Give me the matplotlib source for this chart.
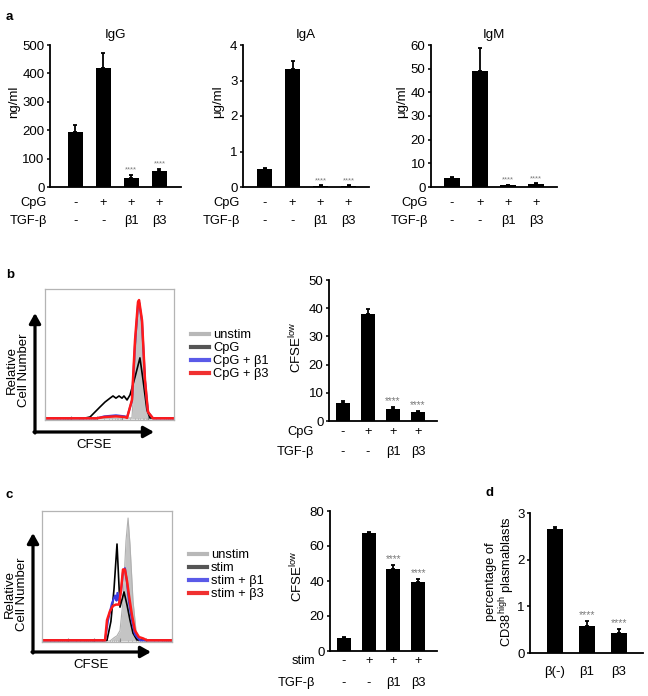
import matplotlib
matplotlib.use("Agg")
import matplotlib.pyplot as plt
from matplotlib.lines import Line2D
from matplotlib.patches import FancyArrowPatch

plt.rcParams["font.family"] = ["Liberation Sans", "DejaVu Sans"]
plt.rcParams["font.size"] = 9.3
plt.rcParams["mathtext.fontset"] = "custom"
plt.rcParams["mathtext.rm"] = "Liberation Sans"

W, H = 648, 696

# ---- panel a: immunoglobulin secretion ----
ig_titles = ["IgG", "IgA", "IgM"]
ig_units = ["ng/ml", "μg/ml", "μg/ml"]
igg_mean = [195, 420, 31, 57]
igg_err = [23, 51, 12, 8]
iga_mean = [0.50, 3.31, 0.04, 0.04]
iga_err = [0.03, 0.25, 0.01, 0.01]
igm_mean = [3.9, 49, 0.85, 1.4]
igm_err = [0.2, 9.8, 0.1, 0.15]
ig_yticks = [[0, 100, 200, 300, 400, 500], [0, 1, 2, 3, 4], [0, 10, 20, 30, 40, 50, 60]]

cpg_row = ["-", "+", "+", "+"]
stim_row = ["-", "+", "+", "+"]
tgf_row = ["-", "-", "β1", "β3"]
sig_idx = [2, 3]

# ---- panel b: CFSE dilution, CpG ----
b_labels = ["unstim", "CpG", "CpG + β1", "CpG + β3"]
b_unstim_x = [0, 67.4, 69.8, 72.1, 73.6, 76.0, 79.0, 81.4, 100]
b_unstim_y = [0, 0.8, 37.7, 83.8, 89.0, 53.0, 14.6, 0, 0]
b_cpg_x = [0, 30, 34.9, 42.6, 46.5, 50.4, 52.7, 55.0, 57.4, 59.7, 61.2, 63.6,
           65.9, 69.8, 73.6, 76.0, 79.0, 81.4, 100]
b_cpg_y = [0.5, 0.5, 1.5, 9.2, 13.0, 16.0, 17.7, 16.0, 17.7, 16.0, 17.7, 14.6,
           18.5, 32.3, 47.0, 30.0, 7.0, 0.8, 0.5]
b_b1_x = [0, 40, 46, 55, 62, 63.6, 67.4, 69.8, 72.1, 72.9, 75.2, 77.5, 79.8, 83.7, 100]
b_b1_y = [0.5, 0.5, 2.0, 2.8, 2.0, 1.2, 14.0, 58.0, 88.0, 90.0, 75.0, 30.0, 5.4, 0.5, 0.5]
b_b3_x = [0, 40, 46, 55, 62, 63.6, 67.4, 69.8, 72.1, 72.9, 75.2, 77.5, 79.8, 83.7, 100]
b_b3_y = [0.5, 0.5, 1.5, 2.0, 1.5, 0.8, 14.6, 60.8, 90.0, 91.5, 76.0, 30.0, 5.4, 0.5, 0.5]
b_mean = [6.5, 37.9, 4.4, 3.3]
b_err = [0.7, 1.7, 0.7, 0.2]

# ---- panel c: CFSE dilution, stim ----
c_labels = ["unstim", "stim", "stim + β1", "stim + β3"]
c_unstim_x = [0, 52.3, 55.4, 57.7, 60.0, 62.3, 64.6, 66.2, 67.7, 70.0, 72.3, 74.6, 100]
c_unstim_y = [0, 0, 2.5, 4.0, 8.0, 31.0, 77.0, 94.6, 74.0, 31.0, 8.0, 0, 0]
c_stim_x = [0, 50.0, 53.0, 55.4, 57.7, 60.0, 63.1, 65.4, 67.7, 70.0, 73.0, 100]
c_stim_y = [0.5, 0.5, 15.0, 40.0, 74.6, 26.0, 37.7, 27.7, 16.0, 6.0, 0.8, 0.5]
c_b1_x = [0, 48.5, 50.8, 53.8, 56.2, 57.3, 58.0, 59.2, 60.8, 62.3, 63.8, 65.4,
          66.9, 69.2, 71.5, 75.4, 100]
c_b1_y = [0.5, 0.5, 16.0, 29.0, 35.0, 31.0, 37.0, 31.0, 38.0, 53.0, 56.0, 45.0,
          30.0, 16.0, 5.0, 0.5, 0.5]
c_b3_x = [0, 48.5, 50.0, 52.3, 54.6, 56.9, 59.2, 60.8, 62.3, 63.8, 65.4, 66.9,
          69.2, 71.5, 74.6, 77.7, 80.8, 100]
c_b3_y = [0.5, 0.5, 16.0, 23.0, 27.0, 28.0, 28.0, 39.0, 55.0, 55.0, 46.0, 35.0,
          20.0, 8.0, 3.0, 2.0, 0.5, 0.5]
c_mean = [7.6, 67.4, 47.0, 39.6]
c_err = [0.3, 0.5, 2.0, 1.5]

# ---- panel d: plasmablasts ----
d_cats = ["β(-)", "β1", "β3"]
d_mean = [2.66, 0.585, 0.435]
d_err = [0.03, 0.10, 0.075]

hist_colors = ["#c4c4c4", "#000000", "#3a3ae0", "#ff1a1a"]
legend_colors = ["#b8b8b8", "#555555", "#5a5ae8", "#f03030"]


def px_axes(fig, l, r, t, b):
    return fig.add_axes([l / W, 1 - b / H, (r - l) / W, (b - t) / H])


def bar_panel(ax, means, errs, xlim, yticks, width, star_fs, stars=True):
    x = list(range(len(means)))
    ax.bar(x, means, width=width, color="black", zorder=2)
    ax.errorbar(x, means, yerr=[[0] * len(x), errs], fmt="none", ecolor="black",
                elinewidth=1.3, capsize=1.5, capthick=1.3, zorder=3)
    if stars:
        for i in sig_idx:
            ax.annotate("****", xy=(i, means[i] + errs[i]), xytext=(0, 1),
                        textcoords="offset pixels", ha="center", va="bottom",
                        fontsize=star_fs, color="#7a7a7a")
    ax.set_xlim(*xlim)
    ax.set_ylim(0, yticks[-1])
    ax.set_yticks(yticks)
    ax.set_xticks([])
    for s in ["top", "right"]:
        ax.spines[s].set_visible(False)
    for s in ["left", "bottom"]:
        ax.spines[s].set_linewidth(1.3)
    ax.tick_params(axis="y", length=2.5, width=1.1, pad=1.5, labelsize=9.5)


def row_labels(ax, name_rows, value_rows, offsets, name_dx):
    for (name, vals, off) in zip(name_rows, value_rows, offsets):
        ax.annotate(name, xy=(0, 0), xycoords="axes fraction", xytext=(name_dx, -off),
                    textcoords="offset pixels", ha="right", va="center")
        for i, v in enumerate(vals):
            ax.annotate(v, xy=(i, 0), xycoords=ax.get_xaxis_transform(),
                        xytext=(0, -off), textcoords="offset pixels",
                        ha="center", va="center")


def hist_panel(ax, curves):
    (ux, uy), rest = curves[0], curves[1:]
    ax.fill_between(ux, uy, color=hist_colors[0], lw=0, zorder=1)
    ax.plot(ux, uy, color="#b0b0b0", lw=0.8, zorder=1)
    widths = [1.2, 1.5, 1.8]
    for (cx, cy), col, lw in zip(rest, hist_colors[1:], widths):
        ax.plot(cx, cy, color=col, lw=lw, zorder=2)
    ax.set_xlim(0, 100)
    ax.set_ylim(-0.8, 100)
    ax.set_yticks([])
    ax.set_xticks(range(0, 101, 20))
    ax.set_xticks([m + d for m in range(0, 100, 20)
                   for d in (6, 9.5, 12, 14, 15.6, 16.9, 18.1, 19.1)], minor=True)
    ax.set_xticklabels([])
    ax.tick_params(axis="x", which="major", direction="in", length=3, width=0.8, color="#888888")
    ax.tick_params(axis="x", which="minor", direction="in", length=1.5, width=0.5, color="#aaaaaa")
    for s in ax.spines.values():
        s.set_color("#b4b4b4")
        s.set_linewidth(0.9)


def arrows(fig, x0, y0, x1, y1):
    kw = dict(transform=fig.transFigure, arrowstyle="-|>,head_length=0.5,head_width=0.28",
              mutation_scale=12, lw=2.3, color="black", shrinkA=0, shrinkB=0)
    fig.add_artist(FancyArrowPatch((x0 / W, 1 - (y0 + 1) / H), (x0 / W, 1 - y1 / H), **kw))
    fig.add_artist(FancyArrowPatch(((x0 - 1) / W, 1 - y0 / H), (x1 / W, 1 - y0 / H), **kw))


def legend_block(ax, labels, x, y):
    handles = [Line2D([], [], color=c, lw=3) for c in legend_colors]
    ax.legend(handles, labels, loc="upper left", bbox_to_anchor=(x / W, 1 - y / H),
              bbox_transform=fig.transFigure, frameon=False, handlelength=1.4,
              handletextpad=0.3, labelspacing=0.08, borderpad=0, borderaxespad=0,
              fontsize=9.3)


fig = plt.figure(figsize=(W / 100, H / 100), dpi=100)

# panel a
a_boxes = [(50, 181, 45, 187), (243, 369, 45, 187), (431, 557, 45, 187)]
a_xlims = [(-0.9, 3.77), (-0.77, 3.73), (-0.75, 3.75)]
a_means = [igg_mean, iga_mean, igm_mean]
a_errs = [igg_err, iga_err, igm_err]
a_label_x = [-0.27, -0.198, -0.23]
for box, xl, m, e, yt, t, u, lx in zip(a_boxes, a_xlims, a_means, a_errs, ig_yticks,
                                       ig_titles, ig_units, a_label_x):
    ax = px_axes(fig, *box)
    bar_panel(ax, m, e, xl, yt, 0.54, 5.5)
    ax.set_title(t, fontsize=9.6, pad=5)
    ax.set_ylabel(u, fontsize=9.5, va="center")
    ax.yaxis.set_label_coords(lx, 0.6)
    row_labels(ax, ["CpG", "TGF-β"], [cpg_row, tgf_row], [16, 34], -3)

# panel b
axh = px_axes(fig, 45, 174, 289, 420)
hist_panel(axh, [(b_unstim_x, b_unstim_y), (b_cpg_x, b_cpg_y),
                 (b_b1_x, b_b1_y), (b_b3_x, b_b3_y)])
legend_block(axh, b_labels, 191, 329)
arrows(fig, 35, 432, 154, 313)
fig.text(18 / W, 1 - 370 / H, "Relative\nCell Number", rotation=90, ha="center",
         va="center", fontsize=9.5, linespacing=1.0)
fig.text(94 / W, 1 - 445 / H, "CFSE", ha="center", va="center", fontsize=9.5)

axb = px_axes(fig, 329, 437, 280, 421)
bar_panel(axb, b_mean, b_err, (-0.56, 3.76), [0, 10, 20, 30, 40, 50], 0.56, 7.2)
axb.set_ylabel("CFSE$^{\\mathrm{low}}$", fontsize=9.5, va="center")
axb.yaxis.set_label_coords(-0.305, 0.525)
row_labels(axb, ["CpG", "TGF-β"], [cpg_row, tgf_row], [11, 31], -15)

# panel c
axh2 = px_axes(fig, 42, 172, 511, 642)
hist_panel(axh2, [(c_unstim_x, c_unstim_y), (c_stim_x, c_stim_y),
                  (c_b1_x, c_b1_y), (c_b3_x, c_b3_y)])
legend_block(axh2, c_labels, 189, 549)
arrows(fig, 33, 652, 151, 533)
fig.text(16 / W, 1 - 594 / H, "Relative\nCell Number", rotation=90, ha="center",
         va="center", fontsize=9.5, linespacing=1.0)
fig.text(91 / W, 1 - 665 / H, "CFSE", ha="center", va="center", fontsize=9.5)

axc = px_axes(fig, 330, 437, 511, 651)
bar_panel(axc, c_mean, c_err, (-0.56, 3.76), [0, 20, 40, 60, 80], 0.56, 7.2)
axc.set_ylabel("CFSE$^{\\mathrm{low}}$", fontsize=9.5, va="center")
axc.yaxis.set_label_coords(-0.31, 0.53)
row_labels(axc, ["stim", "TGF-β"], [stim_row, tgf_row], [10, 32], -15)

# panel d
axd = px_axes(fig, 530, 643, 513, 653)
sig_idx = [1, 2]
bar_panel(axd, d_mean, d_err, (-0.78, 2.75), [0, 1, 2, 3], 0.5, 7.6)
axd.set_xticks(range(len(d_cats)))
axd.set_xticklabels(d_cats)
axd.tick_params(axis="x", length=0, pad=9, labelsize=9.5)
fig.text(497 / W, 1 - 582 / H, "percentage of", rotation=90, ha="right",
         va="center", fontsize=9.3)
fig.text(497 / W, 1 - 582 / H, "CD38$^{\\mathrm{high}}$ plasmablasts", rotation=90,
         ha="left", va="center", fontsize=9.3)

# panel letters
for letter, x, y in [("a", 6, 17), ("b", 6, 275), ("c", 6, 495), ("d", 485, 493)]:
    fig.text(x / W, 1 - y / H, letter, fontsize=9.5, fontweight="bold", ha="left", va="center")

fig.savefig("out.png", dpi=100)
